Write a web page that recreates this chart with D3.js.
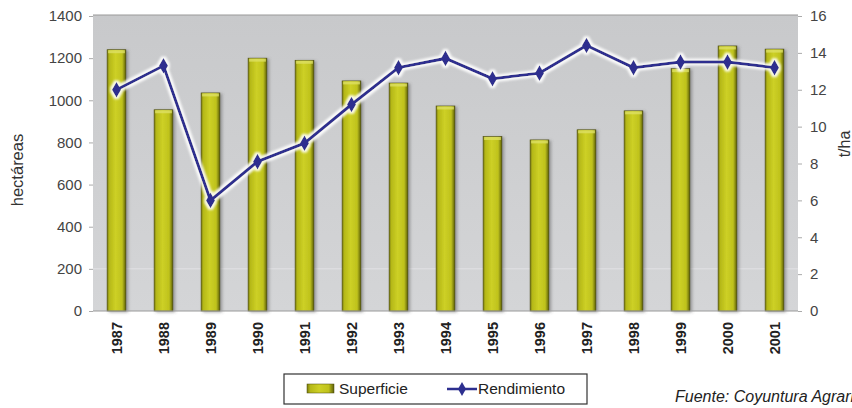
<!DOCTYPE html>
<html><head><meta charset="utf-8">
<script src="https://cdn.jsdelivr.net/npm/d3@7"></script>
<style>body{margin:0;background:#fff;}svg{display:block;font-family:"Liberation Sans",Arial,sans-serif;}</style>
</head><body><svg id="c" width="852" height="408"></svg>
<script>
const years = ["1987","1988","1989","1990","1991","1992","1993","1994","1995","1996","1997","1998","1999","2000","2001"];
const superficie = [1240,955,1035,1200,1190,1092,1082,973,828,812,860,950,1150,1258,1243];
const rendimiento = [12.0,13.3,6.0,8.1,9.1,11.2,13.2,13.7,12.6,12.9,14.4,13.2,13.5,13.5,13.2];
const leftTicks = [0,200,400,600,800,1000,1200,1400];
const rightTicks = [0,2,4,6,8,10,12,14,16];

const svg = d3.select("#c");
const m = {l:93, r:798, t:16, b:311};
const x = d3.scaleBand().domain(years).range([m.l, m.r]).paddingInner(0.6).paddingOuter(0.3);
const y = d3.scaleLinear().domain([0,1400]).range([m.b, m.t]);
const y2 = d3.scaleLinear().domain([0,16]).range([m.b, m.t]);

const defs = svg.append("defs");
const bg = defs.append("linearGradient").attr("id","bg").attr("x1",0).attr("y1",0).attr("x2",0).attr("y2",1);
bg.append("stop").attr("offset","0").attr("stop-color","#c8c9cb");
bg.append("stop").attr("offset","1").attr("stop-color","#d4d5d7");
const bar = defs.append("linearGradient").attr("id","bar").attr("x1",0).attr("y1",0).attr("x2",1).attr("y2",0);
[["0","#7a7b0e"],["0.12","#b5b818"],["0.45","#cdd026"],["0.8","#bfc21c"],["1","#5e600a"]].forEach(s=>bar.append("stop").attr("offset",s[0]).attr("stop-color",s[1]));
const sh = defs.append("filter").attr("id","sh").attr("x","-30%").attr("y","-10%").attr("width","160%").attr("height","120%");
sh.append("feGaussianBlur").attr("in","SourceAlpha").attr("stdDeviation",1.5);
sh.append("feOffset").attr("dx",2).attr("dy",1).attr("result","b");
sh.append("feFlood").attr("flood-color","#555").attr("flood-opacity",0.5);
sh.append("feComposite").attr("in2","b").attr("operator","in");
const mg = sh.append("feMerge"); mg.append("feMergeNode"); mg.append("feMergeNode").attr("in","SourceGraphic");
const gl = defs.append("filter").attr("id","gl").attr("x","-10%").attr("y","-20%").attr("width","120%").attr("height","140%");
gl.append("feMorphology").attr("in","SourceAlpha").attr("operator","dilate").attr("radius",1.5).attr("result","d");
gl.append("feGaussianBlur").attr("in","d").attr("stdDeviation",1.2).attr("result","db");
gl.append("feFlood").attr("flood-color","#ffffff").attr("flood-opacity",0.9);
gl.append("feComposite").attr("in2","db").attr("operator","in");
const mg2 = gl.append("feMerge"); mg2.append("feMergeNode"); mg2.append("feMergeNode").attr("in","SourceGraphic");

// plot area
svg.append("rect").attr("x",m.l).attr("y",m.t-1).attr("width",m.r-m.l).attr("height",m.b-m.t+1).attr("fill","url(#bg)");
svg.append("line").attr("x1",m.l).attr("x2",m.r).attr("y1",m.t-1).attr("y2",m.t-1).attr("stroke","#9a9a9a").attr("stroke-width",1.2);
svg.append("line").attr("x1",m.l).attr("x2",m.r).attr("y1",y(200)).attr("y2",y(200)).attr("stroke","#e2e3e5").attr("stroke-width",1);

// bars
svg.append("g").selectAll("rect").data(years).join("rect")
  .attr("x",d=>x(d)).attr("width",x.bandwidth())
  .attr("y",(d,i)=>y(superficie[i])).attr("height",(d,i)=>y(0)-y(superficie[i]))
  .attr("fill","url(#bar)").attr("stroke","#4a4a08").attr("stroke-width",0.6).attr("filter","url(#sh)");
svg.append("g").selectAll("rect").data(years).join("rect")
  .attr("x",d=>x(d)+1).attr("width",x.bandwidth()-2)
  .attr("y",(d,i)=>y(superficie[i])+0.5).attr("height",3).attr("fill","#dde064").attr("opacity",0.8);

// axes
const axL = svg.append("g").attr("transform",`translate(${m.l},0)`)
  .call(d3.axisLeft(y).tickValues(leftTicks).tickFormat(d3.format("d")).tickSize(4).tickPadding(7));
const axR = svg.append("g").attr("transform",`translate(${m.r},0)`)
  .call(d3.axisRight(y2).tickValues(rightTicks).tickFormat(d3.format("d")).tickSize(4).tickPadding(8));
[axL,axR].forEach(a=>{a.select(".domain").remove();a.selectAll("line").attr("stroke","#aaa");
  a.selectAll("text").attr("fill","#444").attr("font-size",15).attr("font-family","Liberation Sans, Arial, sans-serif");});
svg.append("line").attr("x1",m.l).attr("x2",m.r).attr("y1",m.b).attr("y2",m.b).attr("stroke","#9a9a9a");

const axX = svg.append("g").attr("transform",`translate(0,${m.b})`)
  .call(d3.axisBottom(x).tickSize(0).tickPadding(0));
axX.select(".domain").remove();
axX.selectAll("text").attr("transform","rotate(-90)").attr("text-anchor","end").attr("dx","-11").attr("dy","0.36em")
  .attr("x",0).attr("y",0).attr("font-weight","bold").attr("font-size",14.5).attr("fill","#222")
  .attr("font-family","Liberation Sans, Arial, sans-serif");

// line
const pts = years.map((d,i)=>[x(d)+x.bandwidth()/2, y2(rendimiento[i])]);
const lg = svg.append("g").attr("filter","url(#gl)");
lg.append("path").attr("d",d3.line()(pts)).attr("fill","none").attr("stroke","#2d2f8f").attr("stroke-width",3);
lg.selectAll("path.m").data(pts).join("path").attr("class","m")
  .attr("transform",p=>`translate(${p[0]},${p[1]})`)
  .attr("d",d3.symbol(d3.symbolDiamond,70)).attr("fill","#2d2f8f");

// axis titles
svg.append("text").attr("transform","translate(23,170) rotate(-90)").attr("text-anchor","middle")
  .attr("font-size",16.5).attr("fill","#333").text("hectáreas");
svg.append("text").attr("transform","translate(850,144) rotate(-90)").attr("text-anchor","middle")
  .attr("font-size",16).attr("fill","#333").text("t/ha");

// legend
const L = svg.append("g");
L.append("rect").attr("x",284).attr("y",374).attr("width",303).attr("height",30).attr("fill","#fff").attr("stroke","#333").attr("stroke-width",1.2);
L.append("rect").attr("x",307).attr("y",384).attr("width",27).attr("height",9).attr("fill","url(#bar)").attr("stroke","#4a4a08").attr("stroke-width",0.5);
L.append("text").attr("x",339).attr("y",394).attr("font-size",15.5).attr("fill","#222").text("Superficie");
L.append("line").attr("x1",447).attr("x2",477).attr("y1",389).attr("y2",389).attr("stroke","#2d2f8f").attr("stroke-width",2.5);
L.append("path").attr("transform","translate(462,389)").attr("d",d3.symbol(d3.symbolDiamond,55)).attr("fill","#2d2f8f");
L.append("text").attr("x",478).attr("y",394).attr("font-size",15.5).attr("fill","#222").text("Rendimiento");
svg.append("text").attr("x",675).attr("y",402).attr("font-size",16).attr("font-style","italic").attr("fill","#222").text("Fuente: Coyuntura Agraria");
</script></body></html>
